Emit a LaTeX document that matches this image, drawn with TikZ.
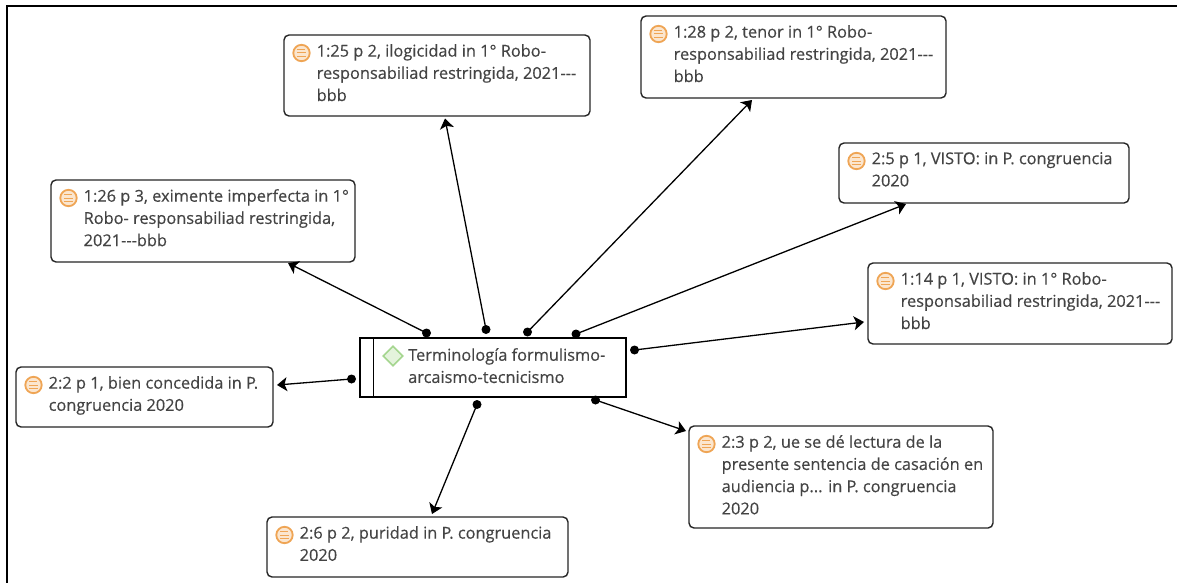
\documentclass[tikz,border=0pt]{standalone}
\usepackage{fontspec}
\setmainfont{Open Sans}[FakeBold=0.35]
\usetikzlibrary{arrows.meta,shapes.geometric}
\definecolor{txt}{HTML}{444444}
\definecolor{docor}{HTML}{EFA555}
\definecolor{docfill}{HTML}{FBE6CF}
\definecolor{gr}{HTML}{A5D68F}
\definecolor{grfill}{HTML}{E4F3DC}
\tikzset{
  x=1pt,y=-1pt,
  card/.style={draw=black!85,line width=1.4pt,rounded corners=5pt,fill=white},
  lbl/.style={anchor=north west,inner sep=0pt,text=txt,font=\fontsize{16.35}{22.2}\selectfont,align=left},
  dotn/.style={circle,fill=black,inner sep=0pt,minimum size=9pt},
  conn/.style={line width=1.3pt,-{Stealth[length=10pt,width=14pt,inset=2.5pt]}},
}
\newcommand{\docicon}[2]{%
  \draw[docor,line width=1.8pt,fill=docfill] (#1,#2) circle (8.2);
  \draw[docor,line width=1pt] (#1-4.5,#2-3.5)--(#1+3,#2-3.5) (#1-4.5,#2)--(#1+4.5,#2) (#1-4.5,#2+3.5)--(#1+4.5,#2+3.5);
}
\newcommand{\cardbox}[6]{% name x1 y1 x2 y2 text
  \draw[card] (#2,#3) rectangle (#4,#5);
  \coordinate (#1) at (#2,#3);
  \docicon{#2+17.5}{#3+18}
  \node[lbl] (#1t) at (#2+32.5,#3+9) {#6};
}
\begin{document}
\begin{tikzpicture}
\useasboundingbox (0,0) rectangle (1177,583);
\fill[white] (0,0) rectangle (1177,583);
\draw[black,line width=2pt] (6.5,583) -- (6.5,6.5) -- (1177,6.5);

\cardbox{a}{284}{35}{590}{116}{1:25 p 2, ilogicidad in 1° Robo-\\responsabiliad restringida, 2021{-}{-}{-}\\bbb}
\cardbox{b}{641}{16}{946}{98}{1:28 p 2, tenor in 1° Robo-\\responsabiliad restringida, 2021{-}{-}{-}\\bbb}
\cardbox{c}{839}{143}{1129}{203}{2:5 p 1, VISTO: in P. congruencia\\2020}
\cardbox{d}{868}{263}{1172}{344}{1:14 p 1, VISTO: in 1° Robo-\\responsabiliad restringida, 2021{-}{-}{-}\\bbb}
\cardbox{e}{51}{180}{355}{262}{1:26 p 3, eximente imperfecta in 1°\\Robo- responsabiliad restringida,\\2021{-}{-}{-}bbb}
\cardbox{f}{16}{367}{273}{427}{2:2 p 1, bien concedida in P.\\congruencia 2020}
\cardbox{g}{689}{426}{993}{528}{2:3 p 2, ue se dé lectura de la\\presente sentencia de casación en\\audiencia p... in P. congruencia\\2020}
\cardbox{h}{267}{517}{568}{577}{2:6 p 2, puridad in P. congruencia\\2020}

\draw[black,line width=1.3pt,fill=white] (360,338) rectangle (626,397);
\draw[black,line width=1.3pt] (373.5,338) -- (373.5,397);
\node[diamond,draw=gr,fill=grfill,line width=1.6pt,minimum width=20pt,minimum height=20pt,inner sep=0pt] (mi) at (393,356) {};
\node[lbl] (main) at (408,348) {Terminología formulismo-\\arcaismo-tecnicismo};

\node[dotn] (de) at (426.5,333) {};
\node[dotn] (da) at (486,329.5) {};
\node[dotn] (db) at (527.5,332) {};
\node[dotn] (dc) at (576,334) {};
\node[dotn] (dd) at (634.5,350) {};
\node[dotn] (dg) at (595.5,400) {};
\node[dotn] (dh) at (477,404.5) {};
\node[dotn] (df) at (351.5,379) {};

\coordinate (te) at (288,263);
\coordinate (ta) at (445,118.5);
\coordinate (tb) at (752,100);
\coordinate (tc) at (906,204);
\coordinate (td) at (864,322);
\coordinate (tg) at (686,431);
\coordinate (th) at (432,514);
\coordinate (tf) at (277,385);

\draw[conn] (de.center) -- (te);
\draw[conn] (da.center) -- (ta);
\draw[conn] (db.center) -- (tb);
\draw[conn] (dc.center) -- (tc);
\draw[conn] (dd.center) -- (td);
\draw[conn] (dg.center) -- (tg);
\draw[conn] (dh.center) -- (th);
\draw[conn] (df.center) -- (tf);
\end{tikzpicture}
\end{document}
